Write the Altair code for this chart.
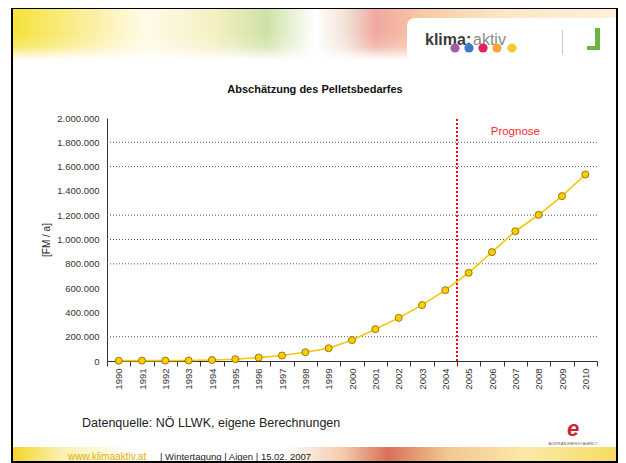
import altair as alt
import pandas as pd

# ---------------- data ----------------
years = [str(y) for y in range(1990, 2011)]
values = [2000, 3000, 3500, 4000, 8000, 15000, 28000, 45000, 72000, 105000,
          172000, 262000, 355000, 460000, 583000, 726000, 896000, 1068000,
          1203000, 1357000, 1535000]
grid_values = [200000, 800000, 1000000, 1200000, 1600000, 1800000]
y_ticks = list(range(0, 2000001, 200000))
forecast_start = ["2005"]
label_year = ["2007"]
label_value = [1860000]

title_text = "Abschätzung des Pelletsbedarfes"
y_title = "[FM / a]"
forecast_text = "Prognose"
source_text = "Datenquelle: NÖ LLWK, eigene Berechnungen"
footer_link = "www.klimaaktiv.at"
footer_rest = "| Wintertagung | Aigen | 15.02. 2007"
dot_colors = ["#a35ca9", "#3d7ac9", "#e0245a", "#f4a83a", "#f7c830"]

FONT = "Liberation Sans"
W, H = 490, 243

df = pd.DataFrame({"Jahr": years, "Wert": values})
one = pd.DataFrame({"a": [0]})

xscale = alt.Scale(domain=years, type="band", paddingInner=0, paddingOuter=0)
yscale = alt.Scale(domain=[0, 2000000], nice=False)

X_AXIS = alt.Axis(title=None, labelAngle=270, labelFontSize=9.5,
                  labelColor="#333333", labelFont=FONT,
                  tickBand="extent", tickSize=5, tickColor="#333333",
                  domainColor="#333333", labelPadding=2, grid=False)
Y_AXIS = alt.Axis(title=None, values=y_ticks, ticks=False, grid=False,
                  labelFontSize=9.5, labelColor="#333333", labelFont=FONT,
                  labelPadding=8, domainColor="#333333", labelOverlap=False,
                  labelExpr="replace(replace(format(datum.value, ','), ',', '.'), ',', '.')")


def xe(field="Jahr", band=0.5):
    return alt.X(f"{field}:O", scale=xscale, bandPosition=band, axis=X_AXIS)


def ye(field):
    return alt.Y(f"{field}:Q", scale=yscale, axis=Y_AXIS)


# gridlines
grid = alt.Chart(pd.DataFrame({"g": grid_values})).mark_rule(
    color="#555555", strokeDash=[1, 2], strokeWidth=1
).encode(y=ye("g"), x=alt.value(0), x2=alt.value(W))

line = alt.Chart(df).mark_line(color="#f7c600", strokeWidth=1.6).encode(
    x=xe(), y=ye("Wert"))
points = alt.Chart(df).mark_point(
    filled=True, fill="#ffcc00", stroke="#7a6400", strokeWidth=0.8,
    size=50, opacity=1, shape="circle"
).encode(x=xe(), y=ye("Wert"))

red = alt.Chart(pd.DataFrame({"Jahr": forecast_start, "lo": [0], "hi": [2000000]})).mark_rule(
    color="#ff0000", strokeDash=[2, 2], strokeWidth=2
).encode(x=xe(band=0), y=ye("lo"), y2="hi:Q")

prog = alt.Chart(pd.DataFrame({"Jahr": label_year, "v": label_value, "t": [forecast_text]})).mark_text(
    color="#ff2a2a", fontSize=11.5, font=FONT, align="center", baseline="alphabetic"
).encode(x=xe(), y=ye("v"), text="t:N")

# ---------------- decorations (pixel positions relative to plot origin) ----------------
def txt(text, x, y, **kw):
    return alt.Chart(one).mark_text(text=text, font=FONT, **kw).encode(
        x=alt.value(x), y=alt.value(y))

def box(x, x2, y, y2, **kw):
    return alt.Chart(one).mark_rect(**kw).encode(
        x=alt.value(x), x2=alt.value(x2), y=alt.value(y), y2=alt.value(y2))

banner_grad = alt.Gradient(
    gradient="linear", x1=0, x2=1, y1=0, y2=0,
    stops=[alt.GradientStop(color="#f6e23a", offset=0),
           alt.GradientStop(color="#faee9c", offset=0.12),
           alt.GradientStop(color="#fffbe8", offset=0.22),
           alt.GradientStop(color="#f6f0c4", offset=0.33),
           alt.GradientStop(color="#cfe2a6", offset=0.42),
           alt.GradientStop(color="#ffffff", offset=0.5),
           alt.GradientStop(color="#f2e4d8", offset=0.55),
           alt.GradientStop(color="#f0a8a0", offset=0.6),
           alt.GradientStop(color="#f7c9a8", offset=0.68),
           alt.GradientStop(color="#fce6c4", offset=0.8),
           alt.GradientStop(color="#fdf2d8", offset=1)])
fade_grad = alt.Gradient(
    gradient="linear", x1=0, x2=0, y1=0, y2=1,
    stops=[alt.GradientStop(color="rgba(255,255,255,0)", offset=0),
           alt.GradientStop(color="rgba(255,255,255,0.2)", offset=0.5),
           alt.GradientStop(color="rgba(255,255,255,1)", offset=1)])
footer_grad = alt.Gradient(
    gradient="linear", x1=0, x2=1, y1=0, y2=0,
    stops=[alt.GradientStop(color="#f3d52a", offset=0),
           alt.GradientStop(color="#fbf0b0", offset=0.08),
           alt.GradientStop(color="#ffffff", offset=0.2),
           alt.GradientStop(color="#ffffff", offset=0.45),
           alt.GradientStop(color="#f2c8a8", offset=0.55),
           alt.GradientStop(color="#d9705a", offset=0.62),
           alt.GradientStop(color="#f3c890", offset=0.72),
           alt.GradientStop(color="#fbe9a8", offset=0.85),
           alt.GradientStop(color="#f6dc60", offset=1)])

banner = box(-94, 510, -110, -58, color=banner_grad)
fade = box(-94, 510, -85, -58, color=fade_grad)
logo_box = box(300, 510, -100, -58, color="#ffffff", cornerRadiusTopLeft=8)
klima = txt("klima:", 318, -78, fontSize=16, fontWeight="bold", color="#3a3a3a", align="left")
aktiv = txt("aktiv", 366, -78, fontSize=16, color="#8a8a8a", align="left")
dot_x = [348, 362, 376, 390, 405]
dots = [alt.Chart(one).mark_circle(size=85, opacity=1, color=c).encode(
            x=alt.value(xv), y=alt.value(-70))
        for c, xv in zip(dot_colors, dot_x)]
divider = box(455, 456, -88, -63, color="#c8c8c8")
l_vert = box(488, 493, -90, -68, color="#6cb33f")
l_hor = box(480, 493, -72, -68, color="#6cb33f")

title = txt(title_text, 208, -28, fontSize=11, fontWeight="bold", color="#111111", align="center")
ytitle = txt(y_title, -60, 122, fontSize=10, color="#222222", angle=270, align="center", baseline="middle")
source = txt(source_text, -25, 305, fontSize=12.5, color="#222222", align="left")
e_logo = txt("e", 466, 311, fontSize=22, fontWeight="bold", fontStyle="italic", color="#c8252d", align="center")
e_sub = txt("AUSTRIAN ENERGY AGENCY", 466, 326, fontSize=3.5, color="#555555", align="center")

footer_band = box(-94, 510, 329, 344, color=footer_grad)
f1 = txt(footer_link, -39, 339, fontSize=10, color="#e4b000", align="left")
f2 = txt(footer_rest, 53, 339, fontSize=9.5, color="#222222", align="left")
border = box(-95, 510, -110, 344, fill="#ffffff", fillOpacity=0, stroke="#000000", strokeWidth=2)

chart = alt.layer(
    banner, fade, logo_box, klima, aktiv, *dots, divider, l_vert, l_hor,
    footer_band, f1, f2,
    grid, red, line, points, prog,
    title, ytitle, source, e_logo, e_sub, border
).properties(
    width=W, height=H,
    autosize=alt.AutoSizeParams(type="none"),
    padding={"left": 99, "top": 110, "right": 21, "bottom": 110},
    background="#ffffff"
).configure_view(stroke="transparent")

chart.save("out.html", embed_options={"renderer": "svg", "actions": False})
